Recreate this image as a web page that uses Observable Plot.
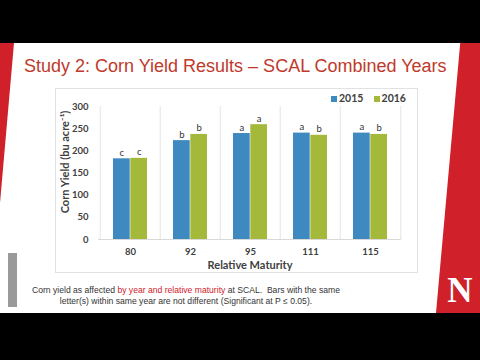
<!DOCTYPE html>
<html><head><meta charset="utf-8">
<script src="https://cdn.jsdelivr.net/npm/d3@7"></script>
<script src="https://cdn.jsdelivr.net/npm/@observablehq/plot@0.6"></script>
<style>
html,body{margin:0;padding:0;background:#000;width:480px;height:360px;overflow:hidden;}
#slide{position:absolute;left:0;top:43px;width:480px;height:270px;background:#fff;overflow:hidden;}
#lred{position:absolute;left:0;top:0;width:14px;height:160px;background:#d0202a;clip-path:polygon(0 0,100% 0,0 100%);}
#rred{position:absolute;left:436px;top:0;width:44px;height:270px;background:#d0202a;clip-path:polygon(55% 0,100% 0,100% 100%,0 100%);}
#logo{position:absolute;left:443px;top:228px;width:34px;text-align:center;font:bold 35px "Liberation Serif",serif;color:#fff;line-height:40px;}
#title{position:absolute;left:24px;top:13px;font:18px "Liberation Sans",Arial,sans-serif;color:#c0392b;white-space:nowrap;}
#box{position:absolute;left:55px;top:45px;width:361px;height:183px;border:1px solid #e2e2e2;background:#fff;}
#chart{position:absolute;left:0;top:0;}
#legend{position:absolute;left:275px;top:3px;font:bold 10.5px Lato,sans-serif;color:#404040;white-space:nowrap;}
#legend span.sw{display:inline-block;width:6px;height:6px;margin-right:2px;vertical-align:0px;}
#cap{position:absolute;left:26px;top:242px;width:320px;font:8.6px "Liberation Sans",Arial,sans-serif;color:#333;line-height:10.5px;text-align:center;}
#cap .r{color:#d0202a;}
#tool{position:absolute;left:8px;top:210px;width:9px;height:54px;background:#9a9a9a;}
</style></head>
<body>
<div id="slide">
  <div id="lred"></div>
  <div id="rred"></div>
  <div id="logo">N</div>
  <div id="tool"></div>
  <div id="title">Study 2: Corn Yield Results – SCAL Combined Years</div>
  <div id="box">
    <div id="chart"></div>
    <div id="legend"><span class="sw" style="background:#3d89c0"></span>2015&nbsp;&nbsp;&nbsp;&nbsp;<span class="sw" style="background:#a4b93a"></span>2016</div>
  </div>
  <div id="cap">Corn yield as affected <span class="r">by year and relative maturity</span> at SCAL.&nbsp; Bars with the same<br>letter(s) within same year are not different (Significant at P ≤ 0.05).</div>
</div>
<script>
const maturity = ["80","92","95","111","115"];
const y2015 = [182, 223, 239, 240, 240];
const y2016 = [183, 237, 259, 235, 237];
const let2015 = ["c","b","a","a","a"];
const let2016 = ["c","b","a","b","b"];
const yTicks = [0,50,100,150,200,250,300];

const d15 = maturity.map((m,i)=>({m, v:y2015[i], l:let2015[i]}));
const d16 = maturity.map((m,i)=>({m, v:y2016[i], l:let2016[i]}));

const W = 361, H = 183, ML = 42, MR = 16, MT = 17, MB = 33;
const bw = (W-ML-MR)/maturity.length;
const gap = 13;
const half = bw/2;
const c = (half-gap)/2;
const font = "Lato, sans-serif";

const chart = Plot.plot({
  width: W, height: H,
  marginLeft: ML, marginRight: MR, marginTop: MT, marginBottom: MB,
  style: {fontFamily: font, fontSize: "9px", color: "#404040", background: "transparent"},
  x: {domain: maturity, padding: 0, label: null, tickSize: 0, tickPadding: 9},
  y: {domain: [0,300], ticks: yTicks, label: null, tickSize: 0, tickPadding: 10},
  marks: [
    Plot.ruleX(maturity, {x: d=>d, dx: -half, stroke: "#e4e4e4"}),
    Plot.ruleX(maturity.slice(-1), {x: d=>d, dx: half, stroke: "#e4e4e4"}),
    Plot.barY(d15, {x: "m", y: "v", fill: "#3d89c0", insetLeft: gap, insetRight: half}),
    Plot.barY(d16, {x: "m", y: "v", fill: "#a4b93a", insetLeft: half, insetRight: gap}),
    Plot.ruleY([0], {stroke: "#d9d9d9"}),
    Plot.text(d15, {x: "m", y: "v", text: "l", dx: -c, dy: -6, fontSize: 9.5, fill: "#333"}),
    Plot.text(d16, {x: "m", y: "v", text: "l", dx: c, dy: -6, fontSize: 9.5, fill: "#333"}),
    Plot.axisX({tickSize: 0, tickPadding: 9, fontWeight: "bold", fontSize: 9.5, label: null}),
    Plot.axisY({ticks: yTicks, tickSize: 0, tickPadding: 10, fontWeight: "bold", fontSize: 9.5, label: null}),
    Plot.text(["Relative Maturity"], {frameAnchor: "bottom", dy: 29, fontWeight: "bold", fontSize: 11, fill: "#404040"}),
    Plot.text(["Corn Yield (bu acre⁻¹)"], {frameAnchor: "left", textAnchor: "middle", rotate: -90, dx: -33, dy: -11, fontWeight: "bold", fontSize: 11, fill: "#404040"})
  ]
});
document.getElementById("chart").appendChild(chart);
</script>
</body></html>
